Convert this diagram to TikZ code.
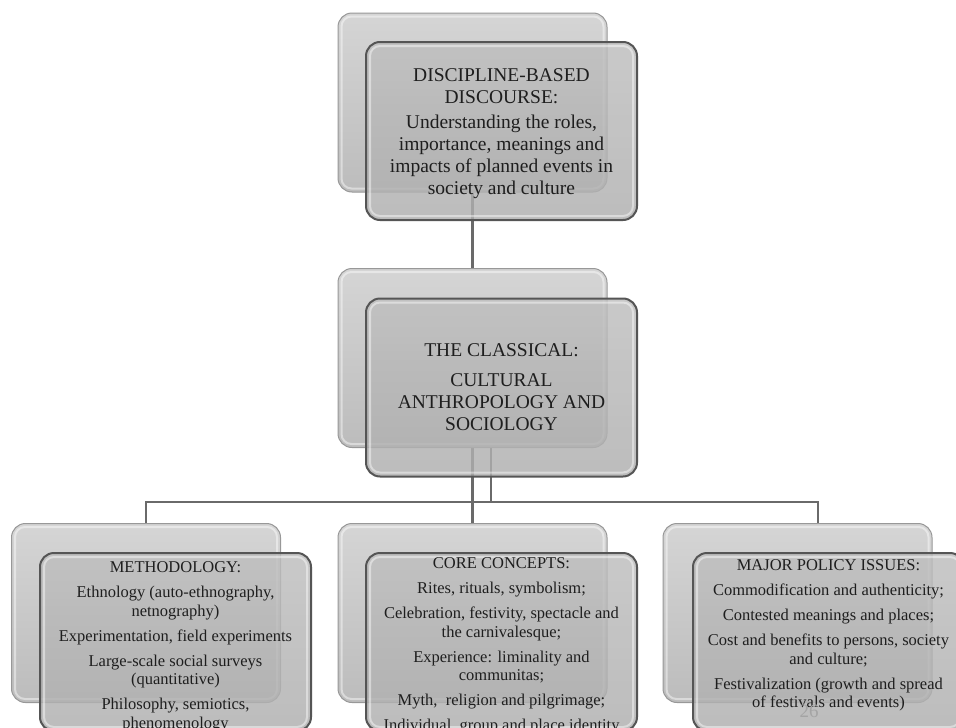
\documentclass[tikz,border=0pt]{standalone}
\usepackage{fontspec}
\setmainfont{Liberation Serif}
\definecolor{bktop}{HTML}{D5D5D5}
\definecolor{bkbot}{HTML}{BCBCBC}
\definecolor{bkedge}{HTML}{989898}
\definecolor{frtop}{HTML}{BEBEBE}
\definecolor{frbot}{HTML}{AEAEAE}
\definecolor{fredge}{HTML}{555555}
\definecolor{conncol}{HTML}{6A6A6A}
\definecolor{txt}{HTML}{1E1E1E}
\definecolor{pagenum}{HTML}{A4A4A4}
\begin{document}
\begin{tikzpicture}[x=1pt,y=-1pt,
  backbox/.style={rectangle, rounded corners=14pt, minimum width=269pt, minimum height=179pt, inner sep=0pt, top color=bktop, bottom color=bkbot, draw=bkedge, line width=1pt},
  frontbox/.style={rectangle, rounded corners=14pt, minimum width=271pt, minimum height=178pt, inner sep=0pt, top color=frtop, bottom color=frbot, fill opacity=0.82, draw=fredge, draw opacity=1, line width=2pt},
  bevel/.style={draw=white, draw opacity=0.45, line width=2pt, rounded corners=10pt},
  conn/.style={draw=conncol, line width=2.6pt},
  bigtext/.style={font=\fontsize{19.5}{22}\selectfont, align=center, inner sep=0pt, anchor=north, text=txt},
  smalltext/.style={font=\fontsize{16.5}{18.5}\selectfont, align=center, inner sep=0pt, anchor=north, text=txt},
]
\useasboundingbox[fill=white] (0,0) rectangle (956,728);

% back boxes
\node[backbox] (tB) at (472.5,102.5) {};
\node[backbox] (mB) at (472.5,358) {};
\node[backbox] (blB) at (146,613) {};
\node[backbox] (bcB) at (472.5,613) {};
\node[backbox] (brB) at (797.5,613) {};
\foreach \n in {tB,mB,blB,bcB,brB}{
  \draw[bevel] ([shift={(4,4)}]\n.north west) rectangle ([shift={(-4,-4)}]\n.south east);
}

% connectors
\coordinate (hub) at (491,502);
\coordinate (rdrop) at ([xshift=20.5pt]brB.north);
\draw[conn] (tB.south) -- (mB.north);
\draw[conn] (mB.south) -- (bcB.north);
\draw[conn] ([xshift=18.5pt]mB.south) -- (hub);
\draw[conn] (blB.north) -- (blB.north |- hub) -- (rdrop |- hub) -- (rdrop);

% front boxes
\node[frontbox] (tF) at (501.5,131) {};
\node[frontbox] (mF) at (501.5,387.5) {};
\node[frontbox] (blF) at (175.5,642) {};
\node[frontbox] (bcF) at (501.5,642) {};
\node[frontbox] (brF) at (828.5,642) {};
\foreach \n in {tF,mF,blF,bcF,brF}{
  \draw[bevel] ([shift={(5,5)}]\n.north west) rectangle ([shift={(-5,-5)}]\n.south east);
}

% texts
\node[bigtext] (tT) at (501.5,68.5) {DISCIPLINE-BASED\\DISCOURSE:\\[3pt]Understanding the roles,\\importance, meanings and\\impacts of planned events in\\society and culture};
\node[bigtext] (mT) at (501.5,343.5) {THE CLASSICAL:\\[8pt]CULTURAL\\ANTHROPOLOGY AND\\SOCIOLOGY};
\node[smalltext] (blT) at (175.5,561.5) {METHODOLOGY:\\[6.5pt]Ethnology (auto-ethnography,\\netnography)\\[6.5pt]Experimentation, field experiments\\[6.5pt]Large-scale social surveys\\(quantitative)\\[6.5pt]Philosophy, semiotics,\\phenomenology};
\node[smalltext] (bcT) at (501.5,557.5) {CORE CONCEPTS:\\[6.5pt]Rites, rituals, symbolism;\\[6.5pt]Celebration, festivity, spectacle and\\the carnivalesque;\\[6.5pt]Experience: liminality and\\communitas;\\[6.5pt]Myth,~ religion and pilgrimage;\\[6.5pt]Individual, group and place identity};
\node[smalltext] (brT) at (828.5,559.5) {MAJOR POLICY ISSUES:\\[6.5pt]Commodification and authenticity;\\[6.5pt]Contested meanings and places;\\[6.5pt]Cost and benefits to persons, society\\and culture;\\[6.5pt]Festivalization (growth and spread\\of festivals and events)};
\node[font=\fontsize{19}{22}\selectfont, text=pagenum, inner sep=0pt] (pg) at (809,711.5) {26};
\end{tikzpicture}
\end{document}
